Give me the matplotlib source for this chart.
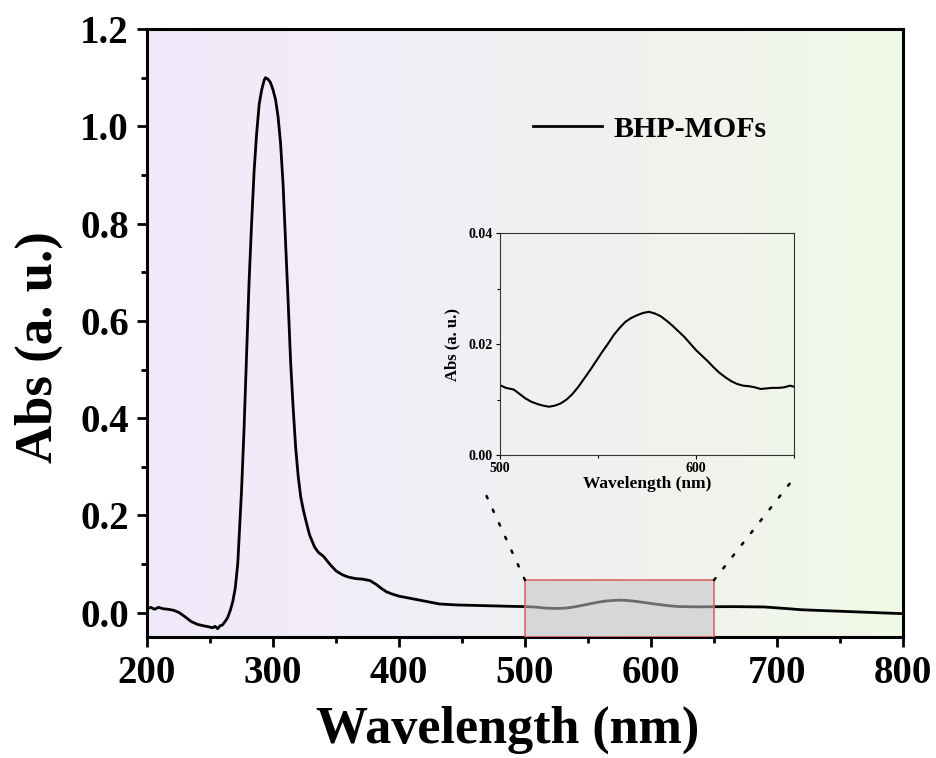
import numpy as np
import matplotlib
matplotlib.use("Agg")
import matplotlib.pyplot as plt
from matplotlib.colors import LinearSegmentedColormap
from matplotlib.patches import Rectangle, ConnectionPatch
from matplotlib.ticker import MultipleLocator, FormatStrFormatter

plt.rcParams['font.family'] = ['Liberation Serif', 'DejaVu Serif']
plt.rcParams['font.weight'] = 'bold'
plt.rcParams['axes.labelweight'] = 'bold'

# UV-vis spectrum of BHP-MOFs
wavelength = [200, 203, 206, 209, 213, 217, 221, 225, 230, 235, 240, 245, 249, 252, 254, 256,
              258, 260, 262, 264, 266, 268, 270, 272, 273, 275, 277, 279, 281, 283, 285, 287,
              289, 291, 293, 294, 296, 298, 300, 302, 304, 306, 308, 310, 312, 314, 316, 318,
              320, 322, 324, 326, 329, 333, 336, 340, 345, 350, 355, 360, 366, 371, 377, 382,
              386, 390, 395, 400, 406, 412, 420, 432, 445, 460, 475, 490,
              500, 503, 507, 510, 513, 516, 519, 522, 525, 528, 531, 534, 537, 540, 543, 546,
              549, 552, 555, 558, 561, 564, 567, 570, 573, 576, 579, 582, 585, 588, 591, 594,
              597, 600, 603, 606, 609, 612, 615, 618, 621, 624, 627, 630, 633, 636, 639, 642,
              645, 648, 650,
              665, 680, 690, 700, 710, 720, 740, 760, 780, 800]
absorbance = [0.008, 0.011, 0.007, 0.011, 0.008, 0.007, 0.005, 0.001, -0.008, -0.018, -0.024,
              -0.027, -0.029, -0.031, -0.028, -0.033, -0.027, -0.025, -0.018, -0.010, 0.004,
              0.022, 0.050, 0.100, 0.149, 0.250, 0.377, 0.530, 0.680, 0.800, 0.908, 0.985,
              1.045, 1.075, 1.095, 1.100, 1.097, 1.090, 1.075, 1.055, 1.020, 0.965, 0.880,
              0.760, 0.640, 0.514, 0.420, 0.339, 0.280, 0.238, 0.212, 0.190, 0.160, 0.135,
              0.124, 0.116, 0.100, 0.086, 0.078, 0.073, 0.070, 0.069, 0.066, 0.058, 0.050,
              0.043, 0.038, 0.034, 0.031, 0.028, 0.024, 0.018, 0.016, 0.015, 0.014, 0.013,
              0.0126, 0.0121, 0.0118, 0.0110, 0.0102, 0.0096, 0.0092, 0.0089, 0.0087, 0.0089,
              0.0093, 0.0100, 0.0110, 0.0123, 0.0138, 0.0153, 0.0169, 0.0185, 0.0200, 0.0216,
              0.0229, 0.0240, 0.0247, 0.0252, 0.0256, 0.0258, 0.0255, 0.0250, 0.0242, 0.0233,
              0.0223, 0.0213, 0.0201, 0.0189, 0.0179, 0.0169, 0.0158, 0.0148, 0.0140, 0.0133,
              0.0128, 0.0125, 0.0124, 0.0122, 0.0119, 0.0120, 0.0121, 0.0121, 0.0122, 0.0125,
              0.0123,
              0.0125, 0.0122, 0.0118, 0.0100, 0.0080, 0.0060, 0.0040, 0.0020, 0.0000, -0.0020]

wl = np.array(wavelength)
ab = np.array(absorbance)

fig = plt.figure(figsize=(9.37, 7.58), dpi=100)
ax = fig.add_axes([0.1569, 0.1596, 0.8068, 0.8021])

# soft lavender -> grey -> green background
bg = LinearSegmentedColormap.from_list('bg', ['#f1e9fb', '#f1edf8', '#f0f0f2', '#f0f3ec', '#f1f9e6'])
ax.imshow(np.linspace(0, 1, 256).reshape(1, -1), cmap=bg, aspect='auto',
          extent=[200, 800, -0.05, 1.2], zorder=0)

ax.plot(wl, ab, color='black', lw=2.0, label='BHP-MOFs', zorder=2)

ax.set_xlim(200, 800)
ax.set_ylim(-0.05, 1.2)
ax.xaxis.set_major_locator(MultipleLocator(100))
ax.xaxis.set_minor_locator(MultipleLocator(50))
ax.yaxis.set_major_locator(MultipleLocator(0.2))
ax.yaxis.set_minor_locator(MultipleLocator(0.1))
ax.yaxis.set_major_formatter(FormatStrFormatter('%.1f'))
ax.tick_params(which='major', direction='out', length=7, width=2, labelsize=28, pad=6)
ax.tick_params(which='minor', direction='out', length=4, width=2)
for s in ax.spines.values():
    s.set_linewidth(2.2)
ax.set_xlabel('Wavelength (nm)', fontsize=37.5)
ax.set_ylabel('Abs (a. u.)', fontsize=38)
ax.xaxis.set_label_coords(0.4775, -0.113)
ax.yaxis.set_label_coords(-0.111, 0.477)

ax.legend(loc='center left', bbox_to_anchor=(0.5106, 0.8355), frameon=False,
          fontsize=21.5, handlelength=2.3, handletextpad=0.4, borderpad=0, borderaxespad=0)

# zoomed region marker
box_top = 0.067
ax.add_patch(Rectangle((500, -0.05), 150, box_top + 0.05, facecolor='#c4c4c4', alpha=0.55,
                       edgecolor='none', zorder=3))
ax.add_patch(Rectangle((500, -0.05), 150, box_top + 0.05, facecolor='none',
                       edgecolor='#e06666', lw=1.2, zorder=4))

# inset with the 500-650 nm band
axin = fig.add_axes([0.5336, 0.3997, 0.3138, 0.2929])
axin.patch.set_alpha(0)
mask = (wl >= 500) & (wl <= 650)
axin.plot(wl[mask], ab[mask], color='black', lw=1.5)
axin.set_xlim(500, 650)
axin.set_ylim(0, 0.04)
axin.xaxis.set_major_locator(MultipleLocator(100))
axin.xaxis.set_minor_locator(MultipleLocator(50))
axin.yaxis.set_major_locator(MultipleLocator(0.02))
axin.yaxis.set_minor_locator(MultipleLocator(0.01))
axin.yaxis.set_major_formatter(FormatStrFormatter('%.2f'))
axin.tick_params(which='major', direction='out', length=3, width=0.8, labelsize=10, pad=2)
axin.tick_params(which='minor', direction='out', length=2, width=0.8)
for s in axin.spines.values():
    s.set_linewidth(0.8)
    s.set_color('#333333')
axin.set_xlabel('Wavelength (nm)', fontsize=12.5, labelpad=1)
axin.set_ylabel('Abs (a. u.)', fontsize=12, labelpad=6)

for xa, xb in [((500, box_top), (-0.058, -0.149)), ((650, box_top), (1.0, -0.104))]:
    con = ConnectionPatch(xyA=xa, coordsA=ax.transData, xyB=xb, coordsB=axin.transAxes,
                          linestyle=(0, (1, 5)), lw=1.8, color='black')
    fig.add_artist(con)

fig.savefig('out.png', dpi=100)
